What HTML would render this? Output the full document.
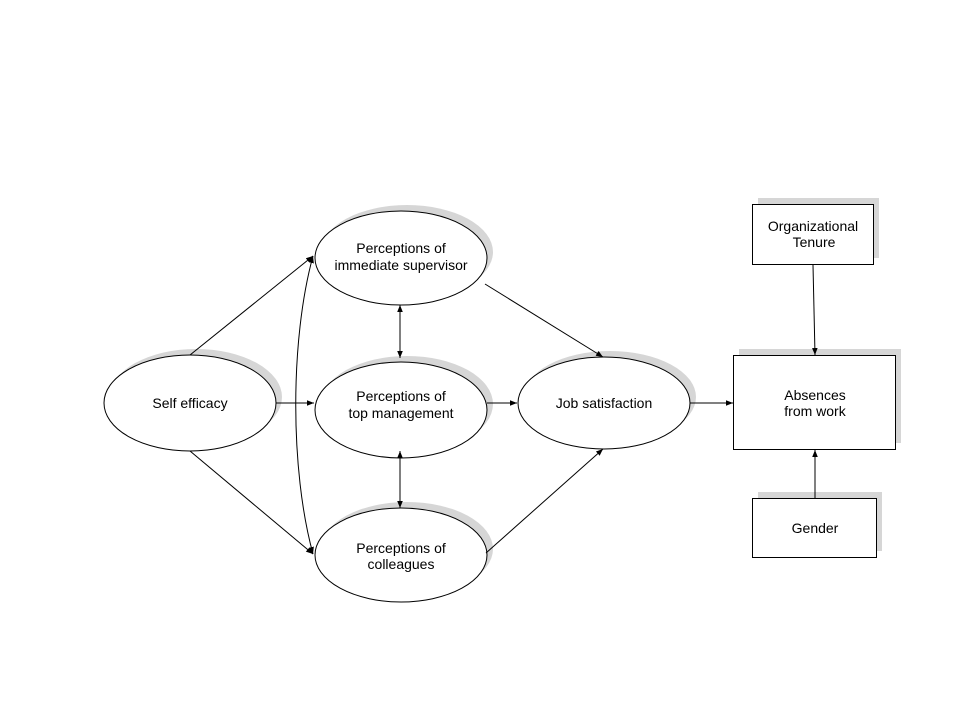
<!DOCTYPE html>
<html><head><meta charset="utf-8"><style>html,body{margin:0;padding:0;background:#fff}</style></head>
<body>
<svg width="960" height="720" viewBox="0 0 960 720" xmlns="http://www.w3.org/2000/svg" font-family="Liberation Sans, Arial, sans-serif" font-size="14" text-anchor="middle">
<defs>
<marker id="a" viewBox="0 0 10 10" refX="10" refY="5" markerWidth="7" markerHeight="7" orient="auto-start-reverse" markerUnits="userSpaceOnUse"><path d="M0,1 L10,5 L0,9 z" fill="#000"/></marker>
</defs>
<g fill="#d6d6d6">
<ellipse cx="196" cy="397" rx="86" ry="48"/>
<ellipse cx="407" cy="252" rx="86" ry="47"/>
<ellipse cx="407" cy="404" rx="86" ry="48"/>
<ellipse cx="407" cy="549" rx="86" ry="47"/>
<ellipse cx="610" cy="397" rx="86" ry="46"/>
<rect x="758" y="198" width="121" height="60"/>
<rect x="739" y="349" width="162" height="94"/>
<rect x="758" y="492" width="124" height="59"/>
</g>
<g fill="#fff" stroke="#000" stroke-width="1">
<ellipse cx="190" cy="403" rx="86" ry="48"/>
<ellipse cx="401" cy="258" rx="86" ry="47"/>
<ellipse cx="401" cy="410" rx="86" ry="48"/>
<ellipse cx="401" cy="555" rx="86" ry="47"/>
<ellipse cx="604" cy="403" rx="86" ry="46"/>
<rect x="752.5" y="204.5" width="121" height="60"/>
<rect x="733.5" y="355.5" width="162" height="94"/>
<rect x="752.5" y="498.5" width="124" height="59"/>
</g>
<g stroke="#000" stroke-width="1" fill="none">
<line x1="190" y1="355" x2="313" y2="256" marker-end="url(#a)"/>
<line x1="190" y1="451" x2="313" y2="554" marker-end="url(#a)"/>
<line x1="276" y1="403" x2="314" y2="403" marker-end="url(#a)"/>
<path d="M313,554 C290,470 290,340 313,256" marker-start="url(#a)" marker-end="url(#a)"/>
<line x1="400" y1="305" x2="400" y2="358" marker-start="url(#a)" marker-end="url(#a)"/>
<line x1="400" y1="451" x2="400" y2="508" marker-start="url(#a)" marker-end="url(#a)"/>
<line x1="485" y1="284" x2="603" y2="357" marker-end="url(#a)"/>
<line x1="486" y1="553" x2="603" y2="449" marker-end="url(#a)"/>
<line x1="487" y1="403" x2="517" y2="403" marker-end="url(#a)"/>
<line x1="690" y1="403" x2="733" y2="403" marker-end="url(#a)"/>
<line x1="813" y1="265" x2="815" y2="355" marker-end="url(#a)"/>
<line x1="815" y1="498" x2="815" y2="450" marker-end="url(#a)"/>
</g>
<g fill="#000">
<text x="190" y="408">Self efficacy</text>
<text x="401" y="253">Perceptions of</text>
<text x="401" y="270">immediate supervisor</text>
<text x="401" y="401">Perceptions of</text>
<text x="401" y="418">top management</text>
<text x="401" y="553">Perceptions of</text>
<text x="401" y="569">colleagues</text>
<text x="604" y="408">Job satisfaction</text>
<text x="813" y="231">Organizational</text>
<text x="814" y="247">Tenure</text>
<text x="815" y="400">Absences</text>
<text x="815" y="416">from work</text>
<text x="815" y="533">Gender</text>
</g>
</svg>
</body></html>
